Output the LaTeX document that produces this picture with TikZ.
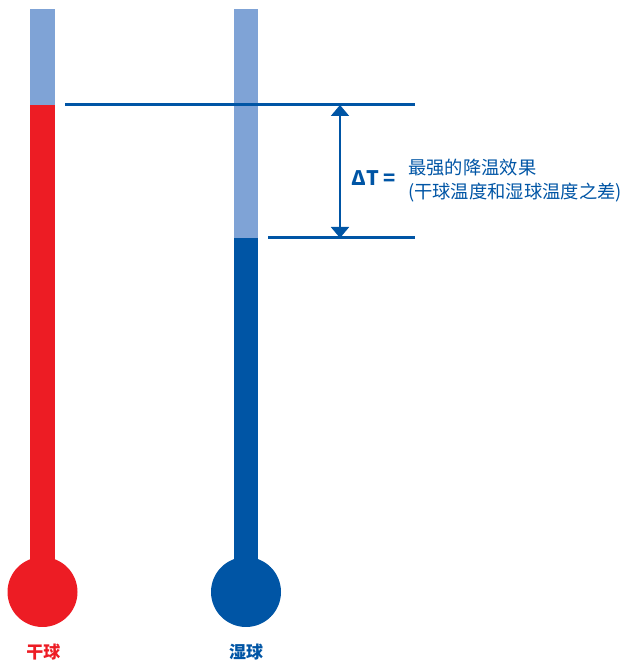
\documentclass[tikz,border=0pt]{standalone}
\usepackage{fontspec}
\setmainfont{Noto Sans CJK SC}
\usepackage{xcolor}
\usetikzlibrary{arrows.meta,positioning}
\definecolor{dryred}{HTML}{ED1C24}
\definecolor{wetblue}{HTML}{0055A5}
\definecolor{paleblue}{HTML}{7FA3D6}

\begin{document}
\begin{tikzpicture}[x=1pt,y=1pt,
        bulb/.style={circle, minimum size=70pt, inner sep=0pt},
        level/.style={wetblue, line width=3pt},
        tag/.style={font=\bfseries\fontsize{17}{20}\selectfont},
        dimtip/.tip={Triangle[width=18pt,length=11pt]}]
        \useasboundingbox (0,0) rectangle (624,664);

        % dry thermometer
        \fill[paleblue] (30,655) rectangle (55,559);
        \fill[dryred] (30,559) rectangle (55,72);
        \node[bulb, fill=dryred] (dry) at (42.5,72) {};
        \node[tag, text=dryred] (drylabel) at (43.5,12) {干球};

        % wet thermometer
        \fill[paleblue] (234,655) rectangle (258,426);
        \fill[wetblue] (234,426) rectangle (258,72);
        \node[bulb, fill=wetblue] (wet) at (246,72) {};
        \node[tag, text=wetblue] (wetlabel) at (246,12) {湿球};

        % levels
        \coordinate (a1) at (65,559);
        \coordinate (a2) at (415,559);
        \coordinate (b1) at (268,426);
        \coordinate (b2) at (415,426);
        \draw[level] (a1) -- (a2);
        \draw[level] (b1) -- (b2);

        \coordinate (top) at (340,559);
        \coordinate (bot) at (340,426);
        \draw[wetblue, line width=2pt, dimtip-dimtip] (top) -- (bot);

        \node[wetblue, font=\bfseries\fontsize{20}{22}\selectfont, anchor=west] (dt) at (348,486) {ΔT =};
        \node[wetblue, font=\fontsize{18.3}{24}\selectfont, align=left, anchor=west, inner sep=0pt] (what) at (408,483)
            {最强的降温效果\\(干球温度和湿球温度之差)};
    \end{tikzpicture}
\end{document}
